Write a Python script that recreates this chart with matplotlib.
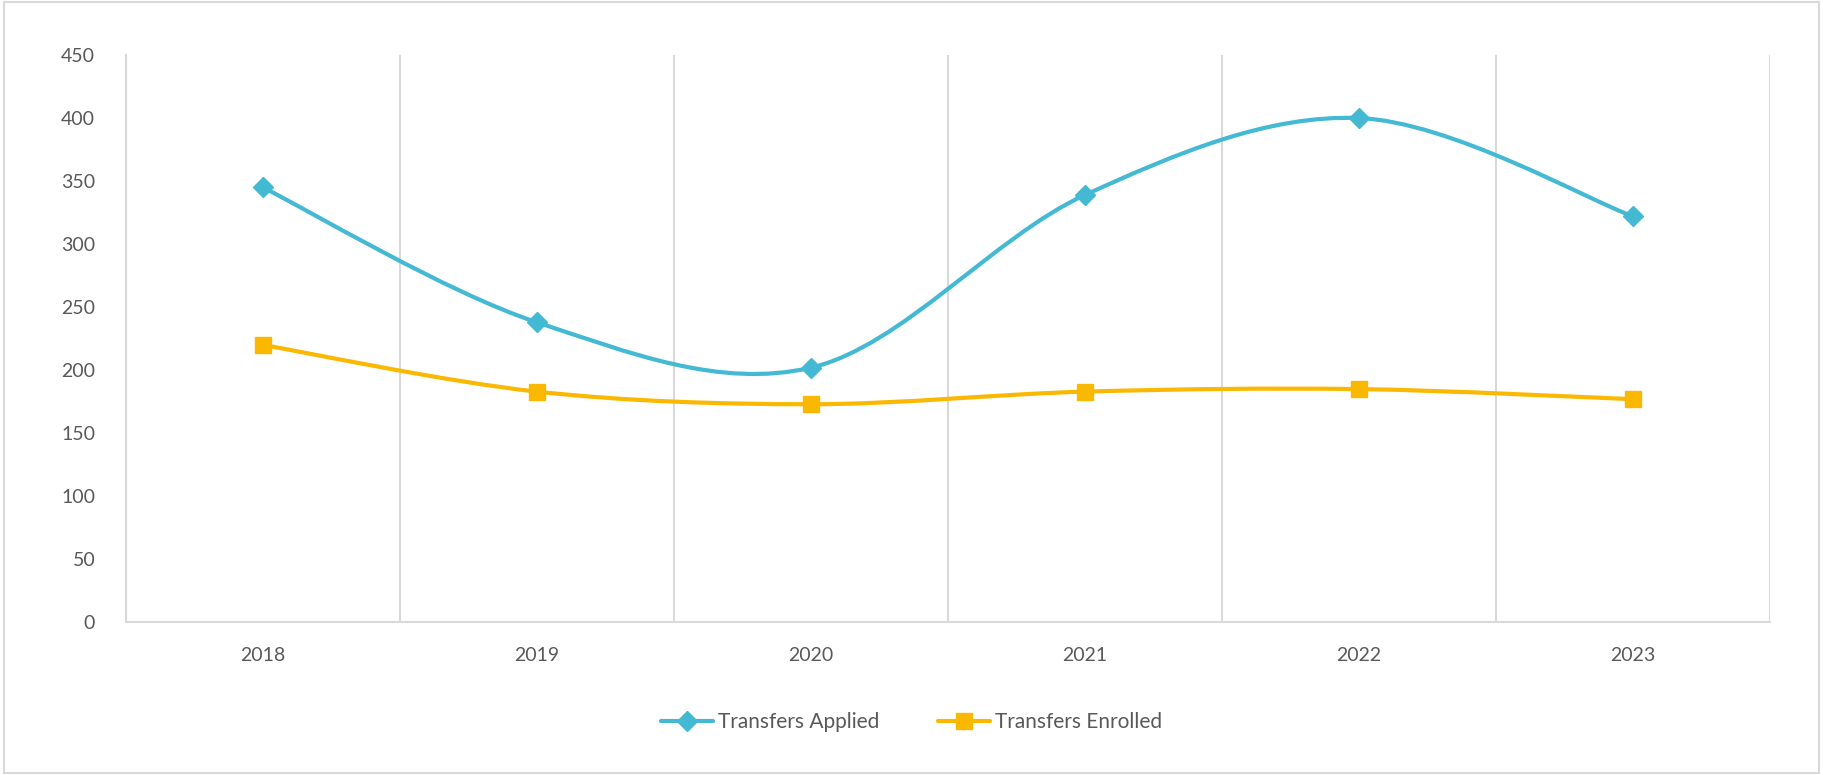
import matplotlib
matplotlib.use("Agg")
import matplotlib.pyplot as plt
from matplotlib.path import Path
from matplotlib.patches import PathPatch, Rectangle
from matplotlib.lines import Line2D
import numpy as np

years = ["2018", "2019", "2020", "2021", "2022", "2023"]
applied = [345, 238, 202, 339, 400, 322]
enrolled = [220, 183, 173, 183, 185, 177]

BLUE = "#43B9D3"
GOLD = "#FBB800"
GRID = "#D9D9D9"
TEXT = "#595959"

plt.rcParams["font.family"] = ["Lato", "DejaVu Sans"]


def smooth_path(xs, ys):
    # Excel-like smoothing: Catmull-Rom segments drawn as cubic Beziers
    pts = np.column_stack([xs, ys]).astype(float)
    verts = [pts[0]]
    codes = [Path.MOVETO]
    n = len(pts)
    for i in range(n - 1):
        p0 = pts[max(i - 1, 0)]
        p1 = pts[i]
        p2 = pts[i + 1]
        p3 = pts[min(i + 2, n - 1)]
        c1 = p1 + (p2 - p0) / 6.0
        c2 = p2 - (p3 - p1) / 6.0
        verts += [c1, c2, p2]
        codes += [Path.CURVE4] * 3
    return Path(verts, codes)


fig = plt.figure(figsize=(18.23, 7.75), dpi=100)
ax = fig.add_axes([0.069, 0.197, 0.902, 0.732])

x = np.arange(len(years))
series = [(applied, BLUE, "D", 10, "Transfers Applied"),
          (enrolled, GOLD, "s", 12, "Transfers Enrolled")]

handles = []
for vals, col, mk, ms, label in series:
    ax.add_patch(PathPatch(smooth_path(x, vals), facecolor="none",
                           edgecolor=col, lw=3, capstyle="round", zorder=3))
    ax.plot(x, vals, linestyle="none", marker=mk, ms=ms, color=col, zorder=4)
    handles.append(Line2D([], [], color=col, lw=3, marker=mk, ms=ms,
                          solid_capstyle="round", label=label))

ax.set_xlim(-0.5, len(years) - 0.5)
ax.set_ylim(0, 450)
ax.set_yticks(np.arange(0, 451, 50))
ax.set_xticks(x)
ax.set_xticklabels(years)

# vertical gridlines between categories
ax.set_xticks(np.arange(-0.5, len(years), 1), minor=True)
ax.grid(which="minor", axis="x", color=GRID, lw=1.5)
ax.grid(which="major", visible=False)

for side in ["top", "right"]:
    ax.spines[side].set_visible(False)
for side in ["left", "bottom"]:
    ax.spines[side].set_color(GRID)
    ax.spines[side].set_linewidth(1.5)

ax.tick_params(axis="both", which="both", length=0, colors=TEXT, labelsize=14)
ax.tick_params(axis="y", pad=22)
ax.tick_params(axis="x", pad=18)

fig.legend(handles=handles, loc="center", bbox_to_anchor=(0.5, 0.068), ncol=2,
           frameon=False, fontsize=15, labelcolor=TEXT, handlelength=2.5,
           columnspacing=2.8, handletextpad=0.25)

fig.patches.append(Rectangle((0.002, 0.002), 0.996, 0.995, transform=fig.transFigure,
                             fill=False, edgecolor=GRID, lw=1.5))

fig.savefig("out.png", dpi=100)
